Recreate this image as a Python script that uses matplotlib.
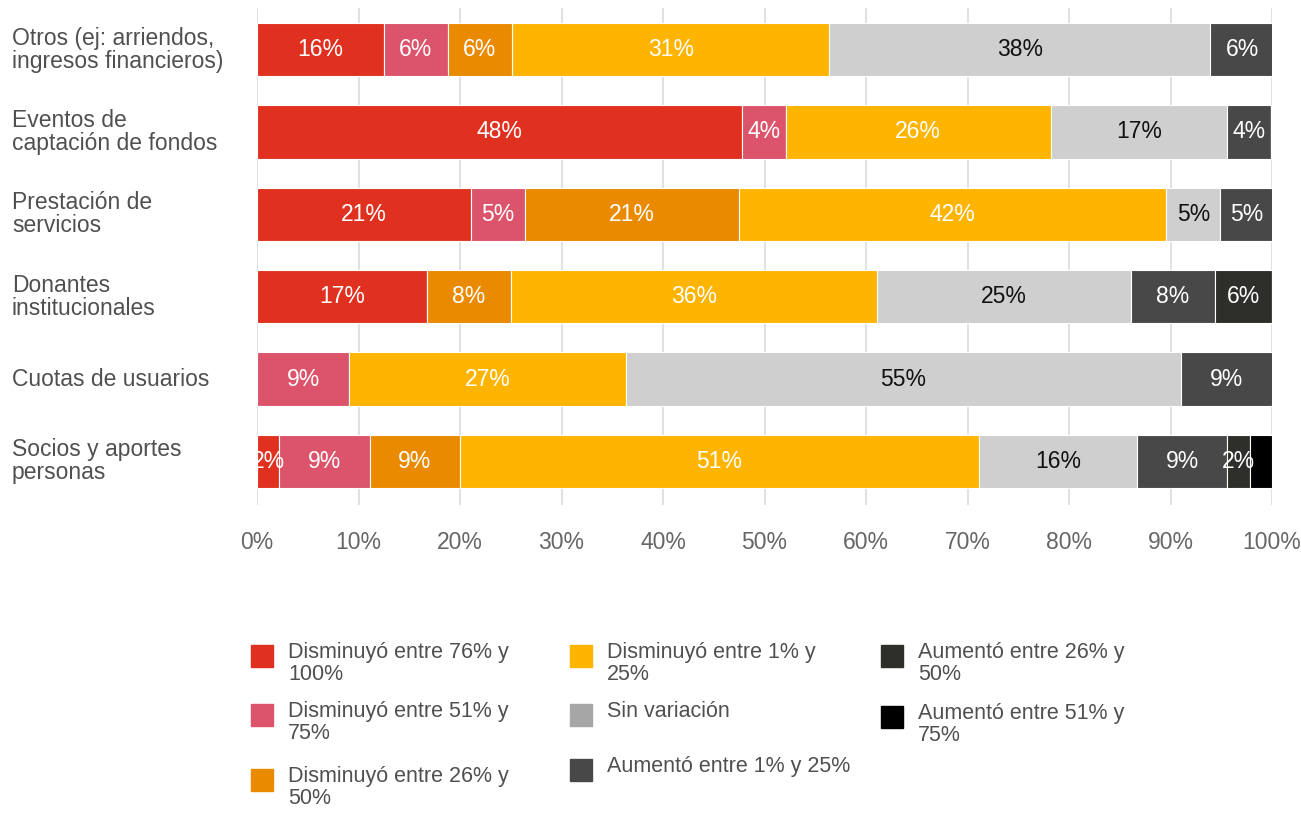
import matplotlib
matplotlib.use("Agg")
import matplotlib.pyplot as plt
from matplotlib.patches import Rectangle
from matplotlib.transforms import blended_transform_factory

plt.rcParams["font.family"] = ["Liberation Sans", "DejaVu Sans"]

categories = ["Otros (ej: arriendos,\ningresos financieros)",
              "Eventos de\ncaptación de fondos",
              "Prestación de\nservicios",
              "Donantes\ninstitucionales",
              "Cuotas de usuarios",
              "Socios y aportes\npersonas"]

# % de organizaciones por categoría
dis_76_100 = [12.5, 47.8, 21.1, 16.7, 0.0, 2.2]
dis_51_75 = [6.3, 4.3, 5.3, 0.0, 9.1, 8.9]
dis_26_50 = [6.3, 0.0, 21.1, 8.3, 0.0, 8.9]
dis_1_25 = [31.3, 26.1, 42.1, 36.1, 27.3, 51.1]
sin_var = [37.5, 17.4, 5.3, 25.0, 54.6, 15.6]
aum_1_25 = [6.3, 4.3, 5.3, 8.3, 9.1, 8.9]
aum_26_50 = [0.0, 0.0, 0.0, 5.6, 0.0, 2.2]
aum_51_75 = [0.0, 0.0, 0.0, 0.0, 0.0, 2.2]

series_names = ["Disminuyó entre 76% y\n100%", "Disminuyó entre 51% y\n75%",
                "Disminuyó entre 26% y\n50%", "Disminuyó entre 1% y\n25%",
                "Sin variación", "Aumentó entre 1% y 25%",
                "Aumentó entre 26% y\n50%", "Aumentó entre 51% y\n75%"]
series = [dis_76_100, dis_51_75, dis_26_50, dis_1_25, sin_var, aum_1_25, aum_26_50, aum_51_75]
colors = ["#e03120", "#dc546b", "#e98a00", "#ffb400", "#d0cfcf", "#484848", "#2e2e2a", "#000000"]
legend_colors = colors[:4] + ["#a6a6a6"] + colors[5:]
text_colors = ["white", "white", "white", "white", "#111111", "white", "white", "white"]
show_labels = [True, True, True, True, True, True, True, False]
label_override = {(0, 0): "16%"}  # etiqueta tal como aparece en el original

W, H = 1301, 813
fig = plt.figure(figsize=(W / 100, H / 100), dpi=100)
ax = fig.add_axes([257 / W, 1 - 505 / H, (1272 - 257) / W, (505 - 8) / H])

ypos = list(range(len(categories)))
left = [0.0] * len(categories)
for si, (vals, col) in enumerate(zip(series, colors)):
    ax.barh(ypos, vals, left=left, height=0.65, color=col,
            edgecolor="white", linewidth=0.8, zorder=3)
    for ci, v in enumerate(vals):
        if v > 0 and show_labels[si]:
            txt = label_override.get((si, ci), f"{v:.0f}%")
            ax.text(left[ci] + v / 2, ci, txt, ha="center", va="center",
                    color=text_colors[si], fontsize=16.5, zorder=4)
    left = [a + b for a, b in zip(left, vals)]

ax.set_xlim(0, 100)
ax.set_ylim(len(categories) - 0.47, -0.505)
ax.set_xticks(range(0, 101, 10))
ax.set_xticklabels([f"{t}%" for t in range(0, 101, 10)])
ax.tick_params(axis="x", length=0, pad=19, labelsize=16.5, labelcolor="#666666")
ax.set_yticks(ypos)
ax.set_yticklabels([])
ax.tick_params(axis="y", length=0)
ax.grid(axis="x", color="#dcdcdc", lw=1.2, zorder=0)
for s in ax.spines.values():
    s.set_visible(False)

lab_tr = blended_transform_factory(fig.transFigure, ax.transData)
for ci, name in enumerate(categories):
    ax.text(12 / W, ci, name, transform=lab_tr, ha="left", va="center",
            fontsize=16.5, color="#505050", linespacing=1.0)

# leyenda manual en tres columnas
legend_pos = [(251, 645), (251, 704), (251, 769),
              (570, 645), (570, 704), (570, 759),
              (881, 645), (881, 706)]
for (px, py), name, col in zip(legend_pos, series_names, legend_colors):
    fig.patches.append(Rectangle((px / W, 1 - (py + 22) / H), 22 / W, 22 / H,
                                 transform=fig.transFigure, color=col))
    fig.text((px + 37) / W, 1 - (py - 3) / H, name, ha="left", va="top",
             fontsize=15.5, color="#505050", linespacing=1.05)

fig.savefig("out.png", dpi=100)
